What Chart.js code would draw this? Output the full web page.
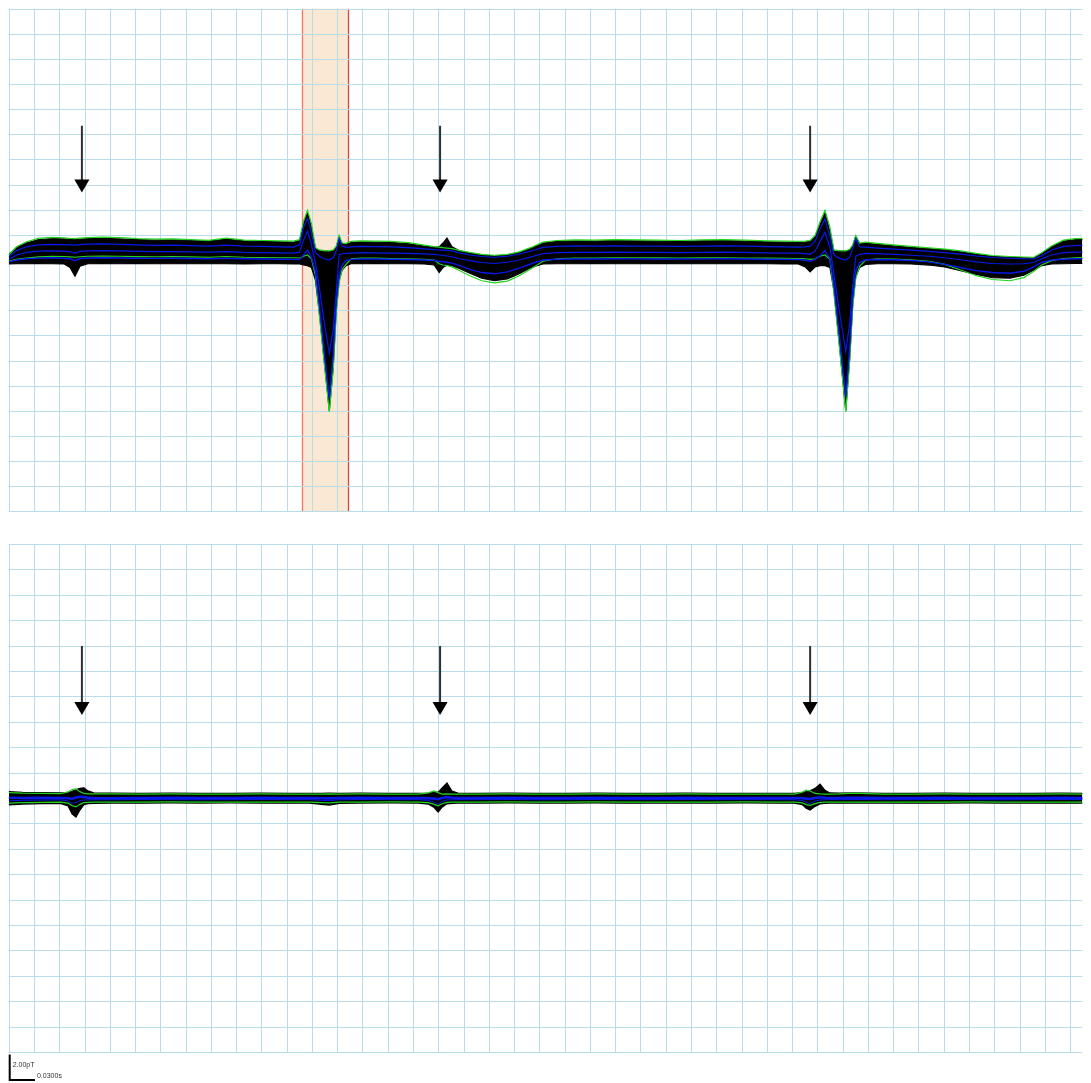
<!DOCTYPE html>
<html>
<head>
<meta charset="utf-8">
<title>MCG butterfly plot</title>
<script src="https://cdn.jsdelivr.net/npm/chart.js@4.4.1/dist/chart.umd.min.js"></script>
<style>
  html, body { margin: 0; padding: 0; background: #ffffff; overflow: hidden; width: 1091px; height: 1083px; }
  canvas { position: absolute; left: 0; }
  #topPanel { top: 0; }
  #bottomPanel { top: 530px; }
</style>
</head>
<body>
<canvas id="topPanel" width="1091" height="520"></canvas>
<canvas id="bottomPanel" width="1091" height="553"></canvas>
<script>
// ---------- upper panel: raw channels (pT) against time (s) ----------
const topTimes = [
  0.0000, 0.0094, 0.0211, 0.0352, 0.0517, 0.0658, 0.0728, 0.0787, 0.0846, 0.0940,
  0.1104, 0.1316, 0.1527, 0.1738, 0.1950, 0.2161, 0.2373, 0.2584, 0.2796, 0.3007,
  0.3218, 0.3383, 0.3453, 0.3500, 0.3547, 0.3594, 0.3641, 0.3688, 0.3747, 0.3806,
  0.3853, 0.3888, 0.3923, 0.3958, 0.4005, 0.4064, 0.4182, 0.4346, 0.4534, 0.4745,
  0.4933, 0.5051, 0.5110, 0.5156, 0.5203, 0.5262, 0.5356, 0.5474, 0.5615, 0.5767,
  0.5920, 0.6061, 0.6202, 0.6343, 0.6507, 0.6719, 0.6954, 0.7189, 0.7447, 0.7705,
  0.7964, 0.8222, 0.8481, 0.8739, 0.8997, 0.9209, 0.9373, 0.9456, 0.9514, 0.9573,
  0.9632, 0.9690, 0.9749, 0.9796, 0.9855, 0.9937, 0.9984, 1.0019, 1.0055, 1.0102,
  1.0172, 1.0313, 1.0501, 1.0712, 1.0924, 1.1112, 1.1300, 1.1488, 1.1676, 1.1887,
  1.2051, 1.2169, 1.2263, 1.2380, 1.2521, 1.2662, 1.2803
];
const topBandHigh = [
  0.45, 1.00, 1.35, 1.62, 1.70, 1.68, 1.64, 1.62, 1.66, 1.70,
  1.72, 1.68, 1.62, 1.58, 1.60, 1.55, 1.50, 1.66, 1.52, 1.48,
  1.45, 1.42, 1.55, 2.90, 3.75, 2.60, 0.90, 0.72, 0.70, 0.68,
  0.75, 1.00, 1.85, 1.30, 1.25, 1.40, 1.45, 1.42, 1.40, 1.30,
  1.10, 1.00, 1.05, 1.35, 1.75, 1.05, 0.72, 0.55, 0.40, 0.32,
  0.40, 0.60, 0.95, 1.35, 1.48, 1.52, 1.50, 1.55, 1.52, 1.50,
  1.48, 1.52, 1.55, 1.50, 1.45, 1.42, 1.40, 1.42, 1.50, 1.85,
  2.85, 3.75, 2.30, 0.72, 0.70, 0.70, 0.80, 1.10, 1.85, 1.30,
  1.35, 1.25, 1.12, 1.00, 0.90, 0.80, 0.65, 0.45, 0.30, 0.22,
  0.18, 0.15, 0.50, 1.05, 1.50, 1.62, 1.66
];
const topBandLow = [
  -0.32, -0.30, -0.30, -0.28, -0.30, -0.32, -0.60, -1.30, -0.50, -0.30,
  -0.28, -0.30, -0.29, -0.30, -0.30, -0.30, -0.30, -0.30, -0.31, -0.30,
  -0.30, -0.31, -0.32, -0.40, -0.45, -0.60, -1.60, -4.20, -8.10, -12.00,
  -8.50, -4.00, -1.60, -0.80, -0.45, -0.30, -0.30, -0.28, -0.30, -0.30,
  -0.32, -0.40, -1.00, -0.60, -0.40, -0.45, -0.70, -1.05, -1.45, -1.65,
  -1.50, -1.10, -0.60, -0.32, -0.30, -0.30, -0.28, -0.30, -0.30, -0.29,
  -0.30, -0.30, -0.30, -0.30, -0.30, -0.31, -0.32, -0.55, -0.95, -0.55,
  -0.45, -0.45, -0.60, -2.40, -6.30, -12.00, -7.80, -3.60, -1.30, -0.60,
  -0.35, -0.30, -0.30, -0.32, -0.40, -0.55, -0.85, -1.15, -1.40, -1.45,
  -1.20, -0.80, -0.45, -0.32, -0.30, -0.28, -0.28
];
const topGreenHigh = [
  0.40, 1.05, 1.45, 1.72, 1.80, 1.76, 1.72, 1.70, 1.74, 1.78,
  1.82, 1.78, 1.70, 1.66, 1.68, 1.62, 1.56, 1.74, 1.58, 1.55,
  1.52, 1.50, 1.62, 3.10, 3.95, 2.90, 1.00, 0.80, 0.75, 0.72,
  0.80, 1.10, 1.95, 1.35, 1.32, 1.48, 1.52, 1.50, 1.48, 1.38,
  1.18, 1.06, 1.02, 0.98, 0.95, 0.90, 0.75, 0.60, 0.45, 0.38,
  0.45, 0.65, 1.00, 1.42, 1.55, 1.60, 1.58, 1.62, 1.60, 1.58,
  1.55, 1.60, 1.62, 1.58, 1.52, 1.50, 1.48, 1.50, 1.55, 1.95,
  3.05, 3.95, 2.60, 0.80, 0.75, 0.72, 0.85, 1.20, 1.95, 1.35,
  1.42, 1.32, 1.20, 1.08, 0.96, 0.86, 0.72, 0.52, 0.36, 0.28,
  0.24, 0.22, 0.58, 1.12, 1.58, 1.70, 1.74
];
const topGreenLow = [
  -0.10, 0.05, 0.15, 0.25, 0.30, 0.28, 0.25, 0.22, 0.26, 0.30,
  0.32, 0.30, 0.27, 0.26, 0.28, 0.25, 0.22, 0.28, 0.22, 0.20,
  0.18, 0.18, 0.16, 0.30, 0.40, 0.10, -1.20, -4.40, -8.30, -12.10,
  -8.70, -4.20, -1.80, -0.75, -0.35, 0.10, 0.15, 0.15, 0.12, 0.10,
  0.06, 0.00, -0.30, -0.40, -0.45, -0.55, -0.85, -1.25, -1.65, -1.82,
  -1.68, -1.25, -0.70, -0.10, 0.10, 0.16, 0.16, 0.18, 0.18, 0.17,
  0.16, 0.17, 0.18, 0.16, 0.15, 0.14, 0.12, 0.10, 0.05, 0.10,
  0.30, 0.40, 0.05, -2.60, -6.50, -12.10, -8.00, -3.80, -1.50, -0.50,
  0.00, 0.10, 0.08, 0.02, -0.10, -0.35, -0.80, -1.25, -1.55, -1.65,
  -1.40, -0.90, -0.40, -0.05, 0.12, 0.18, 0.20
];
const topBlueHigh = [
  0.25, 0.75, 1.05, 1.20, 1.25, 1.22, 1.20, 1.18, 1.22, 1.26,
  1.28, 1.24, 1.20, 1.16, 1.18, 1.14, 1.10, 1.18, 1.10, 1.08,
  1.05, 1.02, 1.20, 2.60, 3.30, 2.20, 0.60, 0.30, 0.10, 0.00,
  0.20, 0.70, 1.70, 1.10, 1.00, 1.05, 1.08, 1.06, 1.04, 0.98,
  0.88, 0.82, 0.80, 0.78, 0.76, 0.72, 0.55, 0.40, 0.28, 0.22,
  0.30, 0.48, 0.72, 1.00, 1.08, 1.12, 1.10, 1.12, 1.10, 1.10,
  1.08, 1.10, 1.12, 1.10, 1.06, 1.04, 1.02, 1.04, 1.10, 1.50,
  2.50, 3.25, 1.90, 0.40, 0.15, 0.00, 0.25, 0.90, 1.70, 1.05,
  1.02, 0.95, 0.86, 0.78, 0.68, 0.58, 0.46, 0.32, 0.20, 0.14,
  0.10, 0.08, 0.35, 0.80, 1.08, 1.15, 1.18
];
const topBlueMid = [
  0.05, 0.40, 0.60, 0.70, 0.72, 0.70, 0.65, 0.55, 0.68, 0.72,
  0.74, 0.72, 0.68, 0.66, 0.66, 0.64, 0.62, 0.66, 0.60, 0.58,
  0.56, 0.55, 0.62, 1.60, 2.30, 1.20, -0.20, -2.20, -5.00, -7.40,
  -5.50, -2.60, 0.40, 0.50, 0.52, 0.55, 0.58, 0.56, 0.55, 0.52,
  0.48, 0.44, 0.40, 0.36, 0.32, 0.26, 0.10, -0.05, -0.20, -0.28,
  -0.18, 0.00, 0.25, 0.50, 0.58, 0.60, 0.60, 0.62, 0.60, 0.60,
  0.58, 0.60, 0.62, 0.60, 0.57, 0.55, 0.54, 0.50, 0.45, 0.70,
  1.50, 2.20, 1.00, -1.10, -3.80, -7.30, -5.00, -2.20, 0.30, 0.45,
  0.52, 0.50, 0.45, 0.38, 0.30, 0.18, 0.02, -0.15, -0.28, -0.32,
  -0.30, -0.20, 0.10, 0.40, 0.58, 0.62, 0.64
];
const topBlueLow = [
  -0.15, 0.00, 0.10, 0.15, 0.18, 0.14, 0.10, -0.05, 0.12, 0.16,
  0.18, 0.16, 0.14, 0.13, 0.14, 0.12, 0.10, 0.13, 0.10, 0.08,
  0.06, 0.05, 0.04, 0.40, 0.80, 0.20, -0.90, -3.60, -7.40, -11.00,
  -7.50, -3.40, -1.20, -0.40, -0.05, 0.05, 0.08, 0.08, 0.06, 0.04,
  0.00, -0.04, -0.10, -0.14, -0.18, -0.25, -0.45, -0.75, -1.00, -1.10,
  -0.95, -0.65, -0.30, 0.00, 0.06, 0.08, 0.08, 0.10, 0.09, 0.08,
  0.08, 0.09, 0.10, 0.08, 0.06, 0.05, 0.04, -0.02, -0.10, 0.05,
  0.35, 0.75, 0.10, -2.00, -5.60, -10.90, -7.00, -3.00, -0.90, -0.20,
  0.02, 0.04, 0.02, -0.04, -0.15, -0.35, -0.60, -0.85, -1.00, -1.05,
  -0.90, -0.55, -0.20, 0.00, 0.06, 0.10, 0.12
];

// ---------- lower panel: filtered channels ----------
const bottomTimes = [
  0.0000, 0.0164, 0.0399, 0.0611, 0.0705, 0.0752, 0.0799, 0.0846, 0.0893, 0.0940,
  0.1010, 0.1222, 0.1574, 0.1927, 0.2279, 0.2631, 0.2984, 0.3336, 0.3571, 0.3712,
  0.3806, 0.3924, 0.4158, 0.4511, 0.4863, 0.4980, 0.5051, 0.5098, 0.5145, 0.5203,
  0.5262, 0.5333, 0.5568, 0.5920, 0.6272, 0.6625, 0.6977, 0.7330, 0.7682, 0.8034,
  0.8387, 0.8739, 0.9091, 0.9326, 0.9420, 0.9467, 0.9514, 0.9573, 0.9632, 0.9690,
  0.9749, 0.9855, 1.0031, 1.0384, 1.0736, 1.1088, 1.1441, 1.1793, 1.2145, 1.2498,
  1.2803
];
const bottomBandHigh = [
  0.50, 0.44, 0.42, 0.40, 0.44, 0.52, 0.66, 0.76, 0.80, 0.56,
  0.40, 0.38, 0.36, 0.38, 0.36, 0.37, 0.38, 0.36, 0.37, 0.36,
  0.38, 0.37, 0.38, 0.37, 0.36, 0.38, 0.48, 0.44, 0.80, 1.18,
  0.55, 0.38, 0.37, 0.38, 0.36, 0.37, 0.38, 0.36, 0.37, 0.38,
  0.36, 0.37, 0.37, 0.37, 0.42, 0.50, 0.56, 0.76, 1.10, 0.60,
  0.40, 0.38, 0.40, 0.37, 0.36, 0.38, 0.37, 0.36, 0.37, 0.38,
  0.37
];
const bottomBandLow = [
  -0.55, -0.48, -0.44, -0.42, -0.62, -1.25, -1.50, -0.95, -0.52, -0.45,
  -0.42, -0.40, -0.41, -0.38, -0.40, -0.39, -0.40, -0.41, -0.40, -0.50,
  -0.56, -0.42, -0.40, -0.39, -0.40, -0.48, -0.75, -1.10, -0.72, -0.46,
  -0.42, -0.40, -0.41, -0.39, -0.40, -0.40, -0.39, -0.41, -0.40, -0.40,
  -0.40, -0.39, -0.40, -0.41, -0.52, -0.80, -0.95, -0.66, -0.46, -0.42,
  -0.40, -0.41, -0.40, -0.40, -0.41, -0.40, -0.39, -0.40, -0.40, -0.41,
  -0.40
];
const bottomGreenHigh = [
  0.42, 0.38, 0.36, 0.35, 0.48, 0.66, 0.72, 0.50, 0.36, 0.32,
  0.33, 0.32, 0.30, 0.32, 0.30, 0.31, 0.32, 0.30, 0.31, 0.30,
  0.32, 0.31, 0.33, 0.31, 0.30, 0.40, 0.56, 0.42, 0.30, 0.32,
  0.30, 0.31, 0.30, 0.32, 0.30, 0.31, 0.32, 0.30, 0.31, 0.32,
  0.30, 0.31, 0.31, 0.31, 0.46, 0.62, 0.55, 0.36, 0.32, 0.30,
  0.31, 0.32, 0.38, 0.31, 0.30, 0.32, 0.31, 0.30, 0.31, 0.32,
  0.31
];
const bottomGreenLow = [
  -0.40, -0.36, -0.34, -0.33, -0.40, -0.60, -0.70, -0.50, -0.36, -0.34,
  -0.33, -0.32, -0.33, -0.31, -0.32, -0.32, -0.33, -0.33, -0.32, -0.36,
  -0.38, -0.33, -0.32, -0.31, -0.32, -0.36, -0.50, -0.62, -0.45, -0.34,
  -0.33, -0.32, -0.33, -0.31, -0.32, -0.32, -0.31, -0.33, -0.32, -0.32,
  -0.32, -0.31, -0.32, -0.33, -0.38, -0.52, -0.58, -0.44, -0.35, -0.33,
  -0.32, -0.33, -0.32, -0.32, -0.33, -0.32, -0.31, -0.32, -0.32, -0.33,
  -0.32
];
const bottomBlueMain = [
  0.02, 0.00, 0.01, 0.00, -0.02, -0.06, 0.04, 0.10, 0.08, 0.02,
  0.00, -0.02, 0.00, 0.01, -0.01, 0.00, 0.01, 0.00, 0.00, -0.02,
  -0.03, 0.00, 0.01, 0.00, 0.00, -0.02, -0.05, -0.10, 0.00, 0.08,
  0.02, 0.00, 0.00, 0.01, -0.01, 0.00, 0.01, 0.00, 0.00, 0.01,
  0.00, 0.00, 0.00, 0.00, -0.02, -0.05, -0.08, 0.00, 0.06, 0.02,
  0.00, 0.00, 0.01, 0.00, 0.00, 0.01, 0.00, -0.01, 0.00, 0.01,
  0.00
];
const bottomBlueLow = [
  -0.22, -0.18, -0.16, -0.15, -0.22, -0.42, -0.36, -0.20, -0.15, -0.15,
  -0.14, -0.14, -0.12, -0.13, -0.14, -0.13, -0.12, -0.13, -0.13, -0.18,
  -0.20, -0.14, -0.12, -0.13, -0.13, -0.18, -0.34, -0.50, -0.26, -0.15,
  -0.14, -0.13, -0.13, -0.12, -0.14, -0.13, -0.12, -0.13, -0.13, -0.12,
  -0.13, -0.13, -0.13, -0.14, -0.20, -0.34, -0.44, -0.25, -0.15, -0.14,
  -0.13, -0.13, -0.12, -0.13, -0.13, -0.12, -0.13, -0.14, -0.13, -0.12,
  -0.13
];

// ---------- markers ----------
const markerTimes = [0.0869, 0.5121, 0.9514];   // stimulus arrows (s)
const topArrowTail = 10.69, topArrowHead = 6.06;  // pT
const bottomArrowTail = 11.97, bottomArrowHead = 7.22;
const selectionWindow = [0.3477, 0.4029];         // highlighted interval (s)
const scaleBarField = 2.0;                        // pT
const scaleBarTime = 0.03;                        // s
const scaleBarLabels = ['2.00pT', '0.0300s'];

// axis layout: one grid cell = 0.03 s by 2 pT
const timeStep = 0.03, fieldStep = 2, fieldMin = -20, fieldMax = 20, timeMax = 1.2745;
const timeGrid = [];
for (let k = 0; k * timeStep < timeMax - 1e-6; k++) timeGrid.push(+(k * timeStep).toFixed(4));
const fieldGrid = [];
for (let v = fieldMin; v <= fieldMax; v += fieldStep) fieldGrid.push(v);

const COLORS = {
  grid: '#b9dce8',
  band: '#000000',
  blue: '#0818e8',
  green: '#22d41e',
  shaft: '#303030',
  head: '#000000',
  window: '#f9e8d3',
  windowLeft: '#f27a6c',
  windowRight: '#cf4a3c'
};

function pts(times, values) {
  return times.map((t, i) => ({ x: t, y: values[i] }));
}

function traceSet(times, high, low, greens, blues, blueWidth) {
  const sets = [
    { data: pts(times, high), borderColor: COLORS.band, borderWidth: 1.2, fill: false, order: 20 },
    { data: pts(times, low), borderColor: COLORS.band, borderWidth: 1.2, backgroundColor: COLORS.band, fill: '-1', order: 19 }
  ];
  greens.forEach(g => sets.push({ data: pts(times, g), borderColor: COLORS.green, borderWidth: 1.2, fill: false, order: 10 }));
  blues.forEach((b, i) => sets.push({ data: pts(times, b), borderColor: COLORS.blue, borderWidth: blueWidth[i], fill: false, order: 5 }));
  return sets;
}

function arrowSets(tail, head) {
  const shafts = [];
  markerTimes.forEach(t => { shafts.push({ x: t, y: tail }, { x: t, y: head }, { x: t, y: null }); });
  return [
    { data: shafts, borderColor: COLORS.shaft, borderWidth: 2, fill: false, spanGaps: false, order: 2 },
    { data: markerTimes.map(t => ({ x: t, y: head })), showLine: false, pointStyle: 'triangle', rotation: 180,
      pointRadius: 8.7, pointBackgroundColor: COLORS.head, pointBorderColor: COLORS.head, pointBorderWidth: 0, order: 1 }
  ];
}

// scales are kept invisible so the plot area is exactly the canvas minus padding;
// the grid is drawn from the scales by the plugin below
function chartOptions(padding) {
  return {
    responsive: false,
    animation: false,
    devicePixelRatio: 1,
    layout: { padding },
    plugins: { legend: { display: false }, tooltip: { enabled: false } },
    elements: { point: { radius: 0, hoverRadius: 0 }, line: { tension: 0 } },
    scales: {
      x: { type: 'linear', min: 0, max: timeMax, display: false },
      y: { type: 'linear', min: fieldMin, max: fieldMax, display: false }
    }
  };
}

const gridPlugin = {
  id: 'paperGrid',
  beforeDatasetsDraw(chart) {
    const { ctx, chartArea, scales } = chart;
    ctx.save();
    ctx.strokeStyle = COLORS.grid;
    ctx.lineWidth = 1;
    ctx.beginPath();
    timeGrid.forEach(t => {
      const x = Math.round(scales.x.getPixelForValue(t)) + 0.5;
      ctx.moveTo(x, chartArea.top); ctx.lineTo(x, chartArea.bottom);
    });
    fieldGrid.forEach(v => {
      const y = Math.round(scales.y.getPixelForValue(v)) + 0.5;
      ctx.moveTo(chartArea.left, y); ctx.lineTo(chartArea.right, y);
    });
    ctx.stroke();
    ctx.restore();
  }
};

// shaded selection window with its two boundary lines
const selectionPlugin = {
  id: 'selection',
  beforeDraw(chart) {
    const { ctx, chartArea, scales } = chart;
    const x0 = scales.x.getPixelForValue(selectionWindow[0]);
    const x1 = scales.x.getPixelForValue(selectionWindow[1]);
    ctx.save();
    ctx.fillStyle = COLORS.window;
    ctx.fillRect(x0, chartArea.top, x1 - x0, chartArea.bottom - chartArea.top);
    ctx.restore();
  },
  beforeDatasetsDraw(chart) {
    const { ctx, chartArea, scales } = chart;
    const x0 = Math.round(scales.x.getPixelForValue(selectionWindow[0])) + 0.5;
    const x1 = Math.round(scales.x.getPixelForValue(selectionWindow[1])) + 0.5;
    ctx.save();
    ctx.lineWidth = 1.3;
    ctx.strokeStyle = COLORS.windowLeft;
    ctx.beginPath(); ctx.moveTo(x0, chartArea.top); ctx.lineTo(x0, chartArea.bottom); ctx.stroke();
    ctx.strokeStyle = COLORS.windowRight;
    ctx.beginPath(); ctx.moveTo(x1, chartArea.top); ctx.lineTo(x1, chartArea.bottom); ctx.stroke();
    ctx.restore();
  }
};

// calibration bar under the lower panel
const scaleBarPlugin = {
  id: 'scaleBar',
  afterDraw(chart) {
    const { ctx, chartArea, scales } = chart;
    const x0 = scales.x.getPixelForValue(0) + 1;
    const w = scales.x.getPixelForValue(scaleBarTime) - scales.x.getPixelForValue(0);
    const h = scales.y.getPixelForValue(0) - scales.y.getPixelForValue(scaleBarField);
    const yb = chartArea.bottom + 28;
    ctx.save();
    ctx.strokeStyle = '#000';
    ctx.lineWidth = 2;
    ctx.beginPath();
    ctx.moveTo(x0, yb - h);
    ctx.lineTo(x0, yb);
    ctx.lineTo(x0 + w, yb);
    ctx.stroke();
    ctx.fillStyle = '#333';
    ctx.font = '7px "Liberation Sans", sans-serif';
    ctx.textBaseline = 'alphabetic';
    ctx.fillText(scaleBarLabels[0], x0 + 3, yb - 13);
    ctx.fillText(scaleBarLabels[1], x0 + w + 2, yb - 2);
    ctx.restore();
  }
};

new Chart(document.getElementById('topPanel'), {
  type: 'line',
  data: {
    datasets: traceSet(topTimes, topBandHigh, topBandLow,
      [topGreenHigh, topGreenLow],
      [topBlueHigh, topBlueMid, topBlueLow], [1.2, 1.2, 1.4])
      .concat(arrowSets(topArrowTail, topArrowHead))
  },
  options: chartOptions({ left: 6, top: 5, right: 0, bottom: 7 }),
  plugins: [selectionPlugin, gridPlugin]
});

new Chart(document.getElementById('bottomPanel'), {
  type: 'line',
  data: {
    datasets: traceSet(bottomTimes, bottomBandHigh, bottomBandLow,
      [bottomGreenHigh, bottomGreenLow],
      [bottomBlueMain, bottomBlueLow], [2.6, 1.0])
      .concat(arrowSets(bottomArrowTail, bottomArrowHead))
  },
  options: chartOptions({ left: 6, top: 14, right: 0, bottom: 31 }),
  plugins: [gridPlugin, scaleBarPlugin]
});
</script>
</body>
</html>
